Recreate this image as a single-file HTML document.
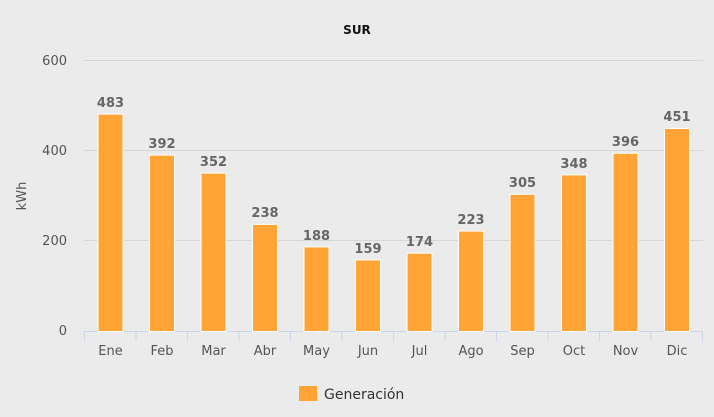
<!DOCTYPE html>
<html><head><style>body{margin:0;background:#ebebeb}svg{display:block}</style></head><body>
<svg width="714" height="417" xmlns="http://www.w3.org/2000/svg" font-family="'DejaVu Sans','Liberation Sans',sans-serif">
<rect width="714" height="417" fill="#ebebeb"/>
<text x="357" y="34" text-anchor="middle" font-size="12" font-weight="bold" fill="#111">SUR</text>
<g stroke="#d6d6d6" stroke-width="1">
<line x1="84" x2="703" y1="60.5" y2="60.5"/><line x1="84" x2="703" y1="150.5" y2="150.5"/><line x1="84" x2="703" y1="240.5" y2="240.5"/>
</g>
<g font-size="13" fill="#555" text-anchor="end">
<text x="67" y="65">600</text><text x="67" y="155">400</text><text x="67" y="245">200</text><text x="67" y="335">0</text>
</g>
<text transform="translate(26,196) rotate(-90)" text-anchor="middle" font-size="13" fill="#555">kWh</text>
<g id="bars"></g>
<line x1="84" x2="703" y1="331.5" y2="331.5" stroke="#ccd6eb"/>
<g stroke="#ccd6eb">
<line x1="84.5" x2="84.5" y1="331" y2="341"/><line x1="136" x2="136" y1="331" y2="341"/><line x1="187.5" x2="187.5" y1="331" y2="341"/><line x1="239" x2="239" y1="331" y2="341"/><line x1="290.5" x2="290.5" y1="331" y2="341"/><line x1="342" x2="342" y1="331" y2="341"/><line x1="393.5" x2="393.5" y1="331" y2="341"/><line x1="445" x2="445" y1="331" y2="341"/><line x1="496.5" x2="496.5" y1="331" y2="341"/><line x1="548" x2="548" y1="331" y2="341"/><line x1="599.5" x2="599.5" y1="331" y2="341"/><line x1="651" x2="651" y1="331" y2="341"/><line x1="702.5" x2="702.5" y1="331" y2="341"/>
</g>
<g stroke="#fff" stroke-width="1" fill="#ffa435">
<rect x="98" y="114.1" width="25" height="217.4"/>
<rect x="149.5" y="155.1" width="25" height="176.4"/>
<rect x="201" y="173.1" width="25" height="158.4"/>
<rect x="252.5" y="224.4" width="25" height="107.1"/>
<rect x="304" y="246.9" width="25" height="84.6"/>
<rect x="355.5" y="259.9" width="25" height="71.6"/>
<rect x="407" y="253.2" width="25" height="78.3"/>
<rect x="458.5" y="231.1" width="25" height="100.4"/>
<rect x="510" y="194.3" width="25" height="137.2"/>
<rect x="561.5" y="174.9" width="25" height="156.6"/>
<rect x="613" y="153.3" width="25" height="178.2"/>
<rect x="664.5" y="128.5" width="25" height="203"/>
</g>
<g font-size="13" font-weight="bold" fill="#666" text-anchor="middle">
<text x="110.5" y="107">483</text><text x="162" y="148">392</text><text x="213.5" y="166">352</text><text x="265" y="217">238</text><text x="316.5" y="240">188</text><text x="368" y="253">159</text><text x="419.5" y="246">174</text><text x="471" y="224">223</text><text x="522.5" y="187">305</text><text x="574" y="168">348</text><text x="625.5" y="146">396</text><text x="677" y="121">451</text>
</g>
<g font-size="13" fill="#555" text-anchor="middle">
<text x="110.5" y="355">Ene</text><text x="162" y="355">Feb</text><text x="213.5" y="355">Mar</text><text x="265" y="355">Abr</text><text x="316.5" y="355">May</text><text x="368" y="355">Jun</text><text x="419.5" y="355">Jul</text><text x="471" y="355">Ago</text><text x="522.5" y="355">Sep</text><text x="574" y="355">Oct</text><text x="625.5" y="355">Nov</text><text x="677" y="355">Dic</text>
</g>
<rect x="299" y="386" width="18" height="15" fill="#ffa435"/>
<text x="324" y="399" font-size="14" fill="#333">Generación</text>
</svg>
</body></html>
